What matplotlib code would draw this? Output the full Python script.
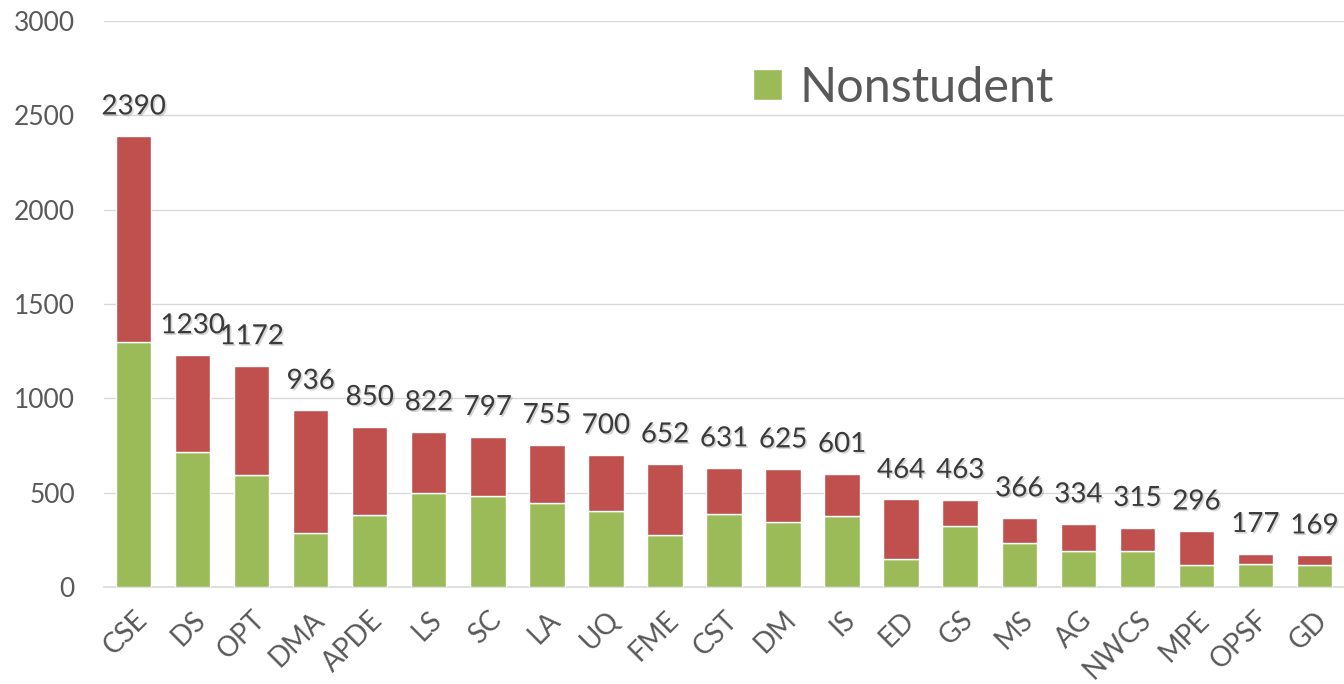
import numpy as np
import matplotlib.pyplot as plt
import matplotlib.patheffects as pe

# Activity groups and member counts
groups = ["CSE", "DS", "OPT", "DMA", "APDE", "LS", "SC", "LA", "UQ", "FME", "CST",
          "DM", "IS", "ED", "GS", "MS", "AG", "NWCS", "MPE", "OPSF", "GD"]
totals = [2390, 1230, 1172, 936, 850, 822, 797, 755, 700, 652, 631,
          625, 601, 464, 463, 366, 334, 315, 296, 177, 169]
nonstudent = [1300, 718, 595, 286, 382, 498, 482, 445, 403, 276, 385,
              346, 378, 147, 325, 232, 189, 189, 117, 124, 117]

green = "#9BBB59"
red = "#C0504D"
grey = "#595959"

plt.rcParams['font.family'] = ['Lato', 'DejaVu Sans']

fig = plt.figure(figsize=(13.44, 6.84), dpi=100)
ax = fig.add_axes([104/1344, 1 - 587/684, 1240/1344, 566/684])

x = np.arange(len(groups))
student = np.array(totals) - np.array(nonstudent)

ax.bar(x, nonstudent, width=0.6, color=green, edgecolor="white", linewidth=1, zorder=3, label="Nonstudent")
ax.bar(x, student, width=0.6, bottom=nonstudent, color=red, edgecolor="white", linewidth=1, zorder=3)

# total labels with a soft shadow
for xi, t in zip(x, totals):
    ax.annotate(str(t), (xi, t), xytext=(0, 12), textcoords="offset points",
                ha="center", va="bottom", fontsize=20, color="#3A3A3A",
                path_effects=[pe.withSimplePatchShadow(offset=(1.2, -1.2), shadow_rgbFace="#777777", alpha=0.3)])

ax.set_xlim(-0.5, len(groups) - 0.5)
ax.set_ylim(0, 3000)
ax.set_yticks(np.arange(0, 3001, 500))
ax.yaxis.grid(True, color="#D9D9D9", linewidth=1, zorder=0)
ax.set_axisbelow(True)
for s in ["top", "right", "left"]:
    ax.spines[s].set_visible(False)
ax.spines["bottom"].set_color("#D9D9D9")
ax.spines["bottom"].set_linewidth(1.2)

ax.set_xticks(x)
ax.set_xticklabels(groups, rotation=45, ha="right", va="top", rotation_mode="anchor")
ax.tick_params(axis="x", length=0, labelsize=20, labelcolor=grey, pad=14)
ax.tick_params(axis="y", length=0, labelsize=19, labelcolor=grey, pad=21)

fig.legend(handles=[ax.patches[0]], labels=["Nonstudent"], loc="center left",
           bbox_to_anchor=(753/1344, 1 - 88/684), frameon=False, fontsize=35,
           labelcolor=grey, handlelength=0.6, handleheight=0.6, handletextpad=0.35,
           borderpad=0, borderaxespad=0)

fig.savefig("out.png", dpi=100)
